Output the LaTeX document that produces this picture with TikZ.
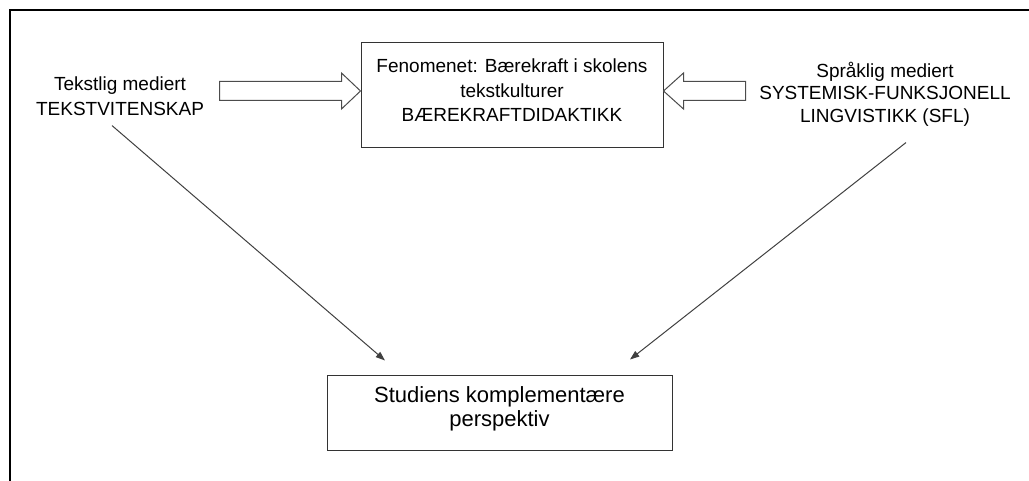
\documentclass[tikz,border=0pt]{standalone}
\usepackage{fontspec}
\setmainfont{Liberation Sans}
\usetikzlibrary{arrows.meta}

\tikzset{
  boxnode/.style={draw=black!80, line width=0.75pt, align=center, inner sep=0pt},
  sidetext/.style={align=center, inner sep=0pt, font=\fontsize{14.25}{18.5}\selectfont},
  hollow/.style={draw=black!70, line width=0.75pt, fill=white},
  link/.style={draw=black!75, line width=0.75pt, -{Triangle[length=7pt,width=5pt]}}
}

\begin{document}
\begin{tikzpicture}[x=0.75pt,y=-0.75pt]
  \useasboundingbox (0,0) rectangle (1029,481);
  % frame
  \draw[line width=1.5pt] (10,481) -- (10,10) -- (1029,10);

  \node[boxnode, minimum width=226.5pt, minimum height=78.75pt,
    text height=47.25pt, text depth=7.5pt,
    font=\fontsize{14.25}{18.5}\selectfont] (fen) at (512,95.5)
    {Fenomenet: Bærekraft i skolens\\tekstkulturer\\BÆREKRAFTDIDAKTIKK};
  \node[sidetext] (ltxt) at (120,96) {Tekstlig mediert\\TEKSTVITENSKAP};
  \node[sidetext, font=\fontsize{14.25}{17}\selectfont] (rtxt) at (885,94)
    {Språklig mediert\\SYSTEMISK-FUNKSJONELL\\LINGVISTIKK (SFL)};
  \node[boxnode, minimum width=258.75pt, minimum height=56.25pt,
    text height=24pt, text depth=3.75pt,
    font=\fontsize{16.5}{18}\selectfont] (study) at (499.5,412.5)
    {Studiens komplementære\\perspektiv};

  % block arrows into the phenomenon
  \coordinate (ltip) at (fen.west |- 0,91);
  \coordinate (rtip) at (fen.east |- 0,91);
  \draw[hollow] (ltip) -- ++(-19,-18) -- ++(0,8.5) -- ++(-122,0) -- ++(0,19)
    -- ++(122,0) -- ++(0,8.5) -- cycle;
  \draw[hollow] (rtip) -- ++(20,-18) -- ++(0,8.5) -- ++(62,0) -- ++(0,19)
    -- ++(-62,0) -- ++(0,8.5) -- cycle;

  % towards the study
  \coordinate (lfrom) at ([shift={(-8,10)}]ltxt.south);
  \coordinate (rfrom) at ([shift={(21,16)}]rtxt.south);
  \coordinate (lto) at ([shift={(-114.5,-14)}]study.north);
  \coordinate (rto) at ([shift={(130.5,-15)}]study.north);
  \begin{scope}[link]
    \draw (lfrom) -- (lto);
    \draw (rfrom) -- (rto);
  \end{scope}
\end{tikzpicture}
\end{document}
